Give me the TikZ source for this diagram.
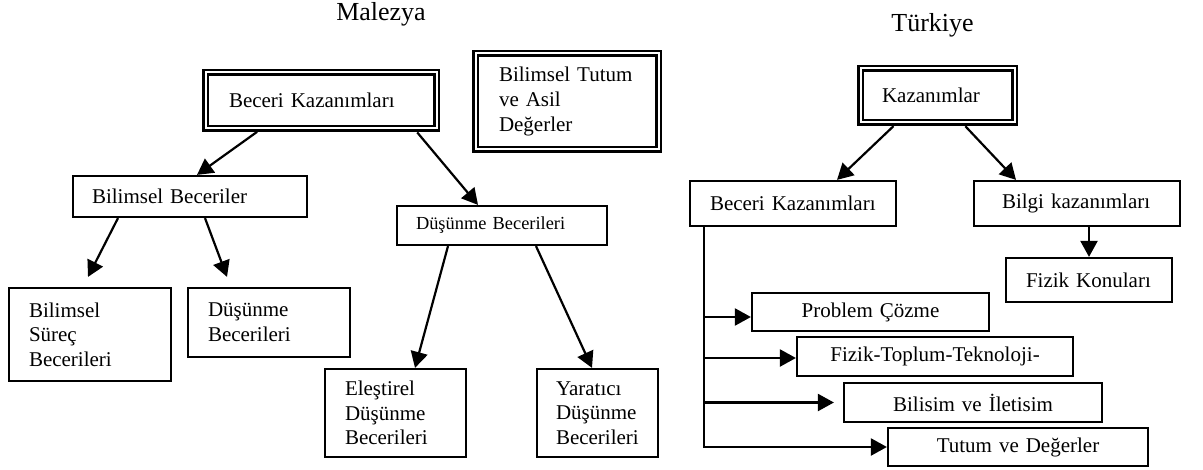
\documentclass[tikz,border=0pt]{standalone}
\usepackage{fontspec}
\setmainfont{Liberation Serif}
\usetikzlibrary{arrows.meta,positioning,calc}

\begin{document}
\begin{tikzpicture}[
    x=0.5pt, y=-0.5pt,
    box/.style={draw, line width=1.1pt, inner ysep=0pt, align=left, font=\fontsize{10.5}{12.3}\selectfont},
    dbox/.style={box, double, line width=1.25pt, double distance=1pt},
    cbox/.style={box, align=center, inner xsep=4pt},
    title/.style={font=\fontsize{13}{15}\selectfont, anchor=base},
    arr/.style={-{Triangle[length=8pt,width=8.5pt]}, line width=1.1pt}
]
\path[use as bounding box, fill=white] (0,0) rectangle (1203,470);

% Malezya
\node[title] (mTitle) at (381,21) {Malezya};
\node[dbox, minimum width=115.5pt, minimum height=28pt, text width=92pt, inner xsep=11.75pt] (mBeceri) at (321,100.5) {Beceri Kazanımları};
\node[dbox, minimum width=91.5pt, minimum height=48pt, text width=68pt, inner xsep=11.75pt] (mTutum) at (567,101.5) {Bilimsel Tutum\\ve Asil\\Değerler};
\node[box, minimum width=117pt, minimum height=20.5pt, text width=98pt, inner xsep=9.5pt] (mBilimsel) at (190,196.5) {Bilimsel Beceriler};
\node[box, font=\fontsize{9.2}{11}\selectfont, minimum width=105pt, minimum height=19.5pt, text width=86pt, inner xsep=9.5pt] (mDusunme) at (502,225.5) {Düşünme Becerileri};
\node[box, minimum width=81pt, minimum height=46.5pt, text width=61pt, inner xsep=10pt] (mSurec) at (90,334.5) {Bilimsel\\Süreç\\Becerileri};
\node[box, minimum width=81pt, minimum height=34.5pt, text width=61pt, inner xsep=10pt] (mDusL) at (269,322.5) {Düşünme\\Becerileri};
\node[box, minimum width=70.5pt, minimum height=44pt, text width=50.5pt, inner xsep=10pt] (mElestirel) at (395.5,413) {Eleştirel\\Düşünme\\Becerileri};
\node[box, minimum width=60.5pt, minimum height=44pt, text width=41.5pt, inner xsep=9.5pt] (mYaratici) at (597.5,413) {Yaratıcı\\Düşünme\\Becerileri};

\draw[arr, shorten <=1.75pt] ([xshift=-30.5pt]mBeceri.south) -- ([xshift=3.5pt]mBilimsel.north);
\draw[arr, shorten <=1.75pt] ([xshift=47pt]mBeceri.south) -- ([xshift=-12pt]mDusunme.north);
\draw[arr] ([xshift=-36pt]mBilimsel.south) -- ([xshift=-1pt,yshift=5pt]mSurec.north);
\draw[arr] ([xshift=7.5pt]mBilimsel.south) -- ([xshift=-21pt,yshift=5pt]mDusL.north);
\draw[arr] ([xshift=-27pt]mDusunme.south) -- ([xshift=9.75pt]mElestirel.north);
\draw[arr] ([xshift=17pt]mDusunme.south) -- ([xshift=-2.75pt]mYaratici.north);

% Turkiye
\node[title] (tTitle) at (932.5,32) {Türkiye};
\node[dbox, minimum width=77pt, minimum height=27pt, text width=55.5pt, inner xsep=10.75pt] (tKazan) at (937.5,95.5) {Kazanımlar};
\node[box, minimum width=103pt, minimum height=22.5pt, text width=83pt, inner xsep=10pt] (tBeceri) at (793,203.5) {Beceri Kazanımları};
\node[box, minimum width=103pt, minimum height=22.5pt, text width=75pt, inner xsep=14pt] (tBilgi) at (1077,203.5) {Bilgi kazanımları};
\node[box, minimum width=83pt, minimum height=22pt, text width=63pt, inner xsep=10pt] (tFizik) at (1089,280) {Fizik Konuları};
\node[cbox, minimum width=118.5pt, minimum height=19pt, text width=110.5pt] (tProblem) at (870.5,312) {Problem Çözme};
\node[cbox, minimum width=138pt, minimum height=19.5pt, text width=130pt] (tFTT) at (935,356.5) {Fizik-Toplum-Teknoloji-};
\node[cbox, minimum width=129pt, minimum height=19.5pt, text width=121pt] (tBilisim) at (973,402.5) {Bilisim ve İletisim};
\node[cbox, minimum width=130pt, minimum height=19pt, text width=122pt] (tTutum) at (1018,447) {Tutum ve Değerler};

\draw[arr, shorten <=1.75pt] ([xshift=-20.75pt]tKazan.south) -- ([xshift=22pt]tBeceri.north);
\draw[arr, shorten <=1.75pt] ([xshift=12.75pt]tKazan.south) -- ([xshift=-30.5pt]tBilgi.north);
\draw[arr] ([xshift=6pt]tBilgi.south) -- (tFizik.north);

\coordinate (trunk) at ([xshift=-44.5pt]tBeceri.south);
\coordinate (probIn) at ([yshift=-2.5pt]tProblem.west);
\coordinate (fttIn) at ([yshift=-0.75pt]tFTT.west);
\draw[arr] (trunk) |- (tTutum.west);
\draw[arr] (trunk |- probIn) -- (probIn);
\draw[arr] (trunk |- fttIn) -- (fttIn);
\draw[arr, shorten >=4.5pt] (trunk |- tBilisim.west) -- (tBilisim.west);
\end{tikzpicture}
\end{document}
